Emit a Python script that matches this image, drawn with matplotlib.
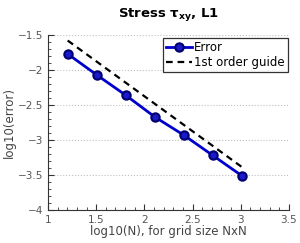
import numpy as np
import matplotlib
matplotlib.use("Agg")
import matplotlib.pyplot as plt
from matplotlib.ticker import MultipleLocator

grid_n = [16, 32, 64, 128, 256, 512, 1024]
log_err = [-1.77, -2.07, -2.36, -2.67, -2.93, -3.22, -3.51]
guide_offset = -0.375

logn = np.log10(grid_n)
guide = -logn + guide_offset

plt.rcParams['font.family'] = ['DejaVu Sans']
fig = plt.figure(figsize=(3.0, 2.43), dpi=100)
ax = fig.add_axes([0.16, 0.136, 0.803, 0.72])

ax.plot(logn, log_err, '-o', color='#0000cc', lw=2, ms=6,
        mfc='#1a1acc', mec='#00006e', mew=1.5, label='Error', zorder=3)
ax.plot(logn, guide, '--', color='black', lw=1.6, dashes=(3, 2.2),
        label='1st order guide', zorder=2)

ax.set_xlim(1, 3.5)
ax.set_ylim(-4, -1.5)
ax.xaxis.set_minor_locator(MultipleLocator(0.1))
ax.yaxis.set_minor_locator(MultipleLocator(0.1))
ax.set_xticks([1, 1.5, 2, 2.5, 3, 3.5])
ax.set_xticklabels(['1', '1.5', '2', '2.5', '3', '3.5'])
ax.set_yticks([-4, -3.5, -3, -2.5, -2, -1.5])
ax.set_yticklabels(['\u22124', '\u22123.5', '\u22123', '\u22122.5', '\u22122', '\u22121.5'])
ax.yaxis.grid(True, which='major', linestyle=':', color='#c0c0c0', lw=0.8)
for s in ['top', 'right']:
    ax.spines[s].set_visible(False)
for s in ['left', 'bottom']:
    ax.spines[s].set_color('#333333')
    ax.spines[s].set_linewidth(0.8)
ax.tick_params(which='both', direction='in', colors='#333333', labelcolor='#555555', labelsize=7.5)
ax.tick_params(which='major', length=4)
ax.tick_params(which='minor', length=2)

ax.set_xlabel('log10(N), for grid size NxN', fontsize=8.5, color='#444444', labelpad=0)
ax.set_ylabel('log10(error)', fontsize=8.5, color='#444444', labelpad=1)
ax.set_title(r'Stress $\mathbf{\tau_{xy}}$, L1', fontsize=9.5, fontweight='bold', pad=13)

leg = ax.legend(loc='upper right', bbox_to_anchor=(1.0, 0.99), fontsize=8.5, frameon=True,
                fancybox=False, edgecolor='black', borderpad=0.25, handlelength=2.2,
                handletextpad=0.2, labelspacing=0.2, borderaxespad=0.1)
leg.get_frame().set_linewidth(0.9)

fig.savefig('out.png', dpi=100)
